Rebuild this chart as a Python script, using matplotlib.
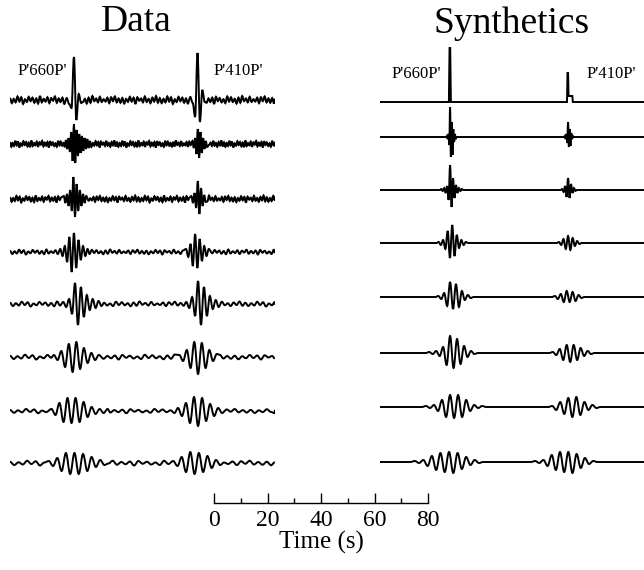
import matplotlib.pyplot as plt
from matplotlib.path import Path
from matplotlib.patches import PathPatch

plt.rcParams['font.family'] = ['Liberation Serif', 'DejaVu Serif']

# hand-read wiggle pattern for background noise (relative units)
noise_pattern = [0.5, -0.8, 0.3, -0.6, 0.9, -0.4, 0.7, -1.0, 0.2, -0.5,
                 0.8, -0.3, 0.6, -0.7, 0.4, -0.9, 1.0, -0.6, 0.3, -0.4,
                 0.7, -0.8, 0.5, -0.2, 0.9, -0.7, 0.4, -0.5, 0.6, -1.0,
                 0.8, -0.3, 0.5, -0.6, 0.2, -0.8, 0.9, -0.4, 0.7, -0.5,
                 0.3, -0.9, 0.6, -0.7, 1.0, -0.3, 0.4, -0.6, 0.8, -0.5,
                 0.2, -0.4, 0.6, -0.8, 0.7, -0.3, 0.9, -0.6, 0.4, -0.7,
                 0.5, -0.9, 0.3, -0.5, 0.8, -0.4, 0.6, -1.0, 0.7, -0.2,
                 0.4, -0.6, 0.9, -0.5, 0.3, -0.8, 0.6, -0.4, 1.0, -0.7]

# each arrival: (start time s, half period s, successive half-cycle amplitudes)
data_660 = [
    (21.2, 0.9, [2, -4, -8, 43, -20, 6, -3]),
    (20.9, 0.5, [4, -5, 6, -8, 12, -17, 20, -19, 14, -12, 10, -9, 8, -7, 6, -5, 5, -4, 3, -3]),
    (20.1, 0.6, [3, -4, 5, -7, 9, -12, 22, -18, 15, -12, 9, -7, 5, -4, 3]),
    (18.8, 0.85, [3, -4, 6, -10, 15, -20, 19, -16, 12, -8, 6, -4, 3]),
    (19.9, 1.1, [2, -3, 5, -10, 21, -21, 17, -13, 9, -6, 5, -4, 3, -2]),
    (16.4, 1.4, [2, -3, 6, -10, 13, -15, 15, -12, 9, -6, 4, -3, 2]),
    (15.5, 1.5, [2, -4, 8, -11, 13, -12, 13, -11, 9, -6, 4, -3, 2, -2, 2]),
    (14.5, 1.6, [2, -3, 5, -8, 10, -11, 10, -11, 9, -8, 6, -4, 3, -2]),
]
data_410 = [
    (67.4, 0.9, [3, -3, -17, 47, -22, 10, -2]),
    (68.2, 0.5, [3, -4, 6, -10, 15, -14, 12, -9, 6, -5, 3, -3]),
    (67.8, 0.6, [3, -4, 6, -9, 18, -15, 11, -7, 4, -3]),
    (65.8, 0.85, [3, -5, 8, -14, 18, -16, 13, -9, 6, -4, 3]),
    (65.9, 1.1, [2, -4, 7, -12, 23, -21, 17, -12, 8, -5, 4, -3]),
    (63.3, 1.4, [2, -4, 7, -11, 15, -17, 14, -11, 7, -4, 3]),
    (62.8, 1.5, [3, -5, 8, -12, 14, -15, 13, -10, 7, -5, 3, -2]),
    (61.0, 1.6, [2, -3, 6, -9, 11, -11, 10, -9, 7, -5, 3, -2]),
]
data_noise_amp = [4, 3.5, 3.5, 2.5, 2.5, 2.5, 2.2, 2.5]
data_noise_hp = [0.7, 0.5, 0.6, 0.85, 1.1, 1.4, 1.5, 1.6]

synth_660 = [
    (25.75, 0.25, [0, 54, 54, 0]),
    (25.0, 0.3, [1, -2, 3, -8, 30, -20, 15, -18, 8, -5, 3, -2]),
    (22.9, 0.55, [1, -1, 2, -3, 4, -10, 25, -17, 12, -8, 5, -3, 2, -1, 1]),
    (21.9, 0.85, [1, -2, 3, -6, 12, -15, 18, -13, 8, -5, 3, -2, 1]),
    (21.8, 1.1, [1, -2, 4, -9, 15, -12, 13, -10, 6, -3, 2, -1]),
    (18.4, 1.3, [1, -1, 2, -3, 6, -12, 17, -15, 14, -11, 7, -4, 2, -1]),
    (17.2, 1.5, [1, -1, 2, -4, 7, -10, 12, -11, 12, -10, 7, -4, 2, -1, 1]),
    (13.0, 1.6, [1, -1, 2, -4, 6, -8, 9, -10, 10, -11, 9, -7, 5, -3, 2, -1]),
]
synth_410 = [
    (69.9, 0.2, [0, 29, 29, 6, 6, 6, 6, 6, 6, 6, 6, 0]),
    (69.1, 0.3, [1, -2, 3, -6, 15, -10, 8, -9, 4, -2, 1]),
    (68.1, 0.55, [1, -2, 4, -7, 12, -8, 6, -3, 2, -1]),
    (66.9, 0.85, [1, -2, 4, -6, 7, -7, 5, -3, 2, -1]),
    (65.4, 1.1, [1, -2, 3, -5, 6, -5, 5, -4, 2, -1]),
    (64.6, 1.3, [1, -2, 4, -7, 8, -9, 8, -7, 5, -3, 2, -1]),
    (64.4, 1.5, [1, -3, 5, -7, 9, -10, 10, -8, 5, -3, 2, -1]),
    (58.0, 1.55, [1, -1, 2, -4, 7, -8, 10, -10, 10, -11, 8, -6, 4, -2, 1]),
]

data_base = [100, 144, 199, 252, 304, 357, 411, 463]
synth_base = [102, 137, 190, 243, 297, 353, 407, 462]
t_end = 99.0
time_ticks = [0, 20, 40, 60, 80]
time_minor = [10, 30, 50, 70]

W, H = 644, 570
fig = plt.figure(figsize=(W / 100, H / 100), dpi=100)


def trace_points(packets, noise_amp=0, noise_hp=1.0):
    pts = []
    windows = []
    for start, hp, amps in packets:
        end = start + hp * (len(amps) - 1)
        windows.append((start - 0.6 * noise_hp, end + 0.6 * noise_hp))
        for k, a in enumerate(amps):
            pts.append((start + k * hp, a))
        if not noise_amp:
            # quiet baseline on both sides of a synthetic arrival
            pts += [(start - hp, 0.0), (end + hp, 0.0)]
    if noise_amp:
        t, k = 0.0, 0
        while t <= t_end + noise_hp:
            if not any(lo <= t <= hi for lo, hi in windows):
                pts.append((min(t, t_end), noise_amp * noise_pattern[k % len(noise_pattern)]))
            t += noise_hp
            k += 1
    else:
        pts += [(0.0, 0.0), (t_end, 0.0)]
    return sorted(set(pts))


def draw_trace(ax, base, pts, lw=1.4):
    verts = [(pts[0][0], base - pts[0][1])]
    codes = [Path.MOVETO]
    for (t0, v0), (t1, v1) in zip(pts[:-1], pts[1:]):
        d = 0.36 * (t1 - t0)
        verts += [(t0 + d, base - v0), (t1 - d, base - v1), (t1, base - v1)]
        codes += [Path.CURVE4] * 3
    ax.add_patch(PathPatch(Path(verts, codes), fill=False, lw=lw, color='black'))


def panel(left_px, packets_a, packets_b, bases, noise_amp=None, noise_hp=None):
    ax = fig.add_axes([left_px / W, 0, t_end * 2.675 / W, 1])
    ax.set_xlim(0, t_end)
    ax.set_ylim(H, 0)
    ax.axis('off')
    for i, base in enumerate(bases):
        if noise_amp:
            pts = trace_points([packets_a[i], packets_b[i]], noise_amp[i], noise_hp[i])
        else:
            pts = trace_points([packets_a[i], packets_b[i]])
        draw_trace(ax, base, pts)
    return ax


panel(10, data_660, data_410, data_base, data_noise_amp, data_noise_hp)
panel(380, synth_660, synth_410, synth_base)

# phase labels
lab = dict(fontsize=12, va='center', ha='center')
fig.text(42 / W, 1 - 71 / H, "P'660P'", **lab)
fig.text(238 / W, 1 - 71 / H, "P'410P'", **lab)
fig.text(416 / W, 1 - 74 / H, "P'660P'", **lab)
fig.text(611 / W, 1 - 74 / H, "P'410P'", **lab)

fig.text(136 / W, 1 - 22 / H, 'Data', fontsize=27, ha='center', va='center')
fig.text(512 / W, 1 - 24 / H, 'Synthetics', fontsize=27, ha='center', va='center')

# time scale bar
sax = fig.add_axes([214 / W, 1 - 503 / H, 214 / W, 0.05])
sax.set_xlim(0, 80)
sax.set_ylim(0, 1)
for s in ['top', 'left', 'right']:
    sax.spines[s].set_visible(False)
sax.spines['bottom'].set_linewidth(1.0)
sax.set_yticks([])
sax.set_xticks(time_ticks)
sax.set_xticks(time_minor, minor=True)
sax.tick_params(axis='x', which='major', direction='in', length=7, width=1.0,
                labelsize=17, pad=5)
sax.tick_params(axis='x', which='minor', direction='in', length=3.5, width=1.0)
sax.patch.set_visible(False)
sax.set_xlabel('Time (s)', fontsize=18, labelpad=0)

fig.savefig('out.png', dpi=100)
